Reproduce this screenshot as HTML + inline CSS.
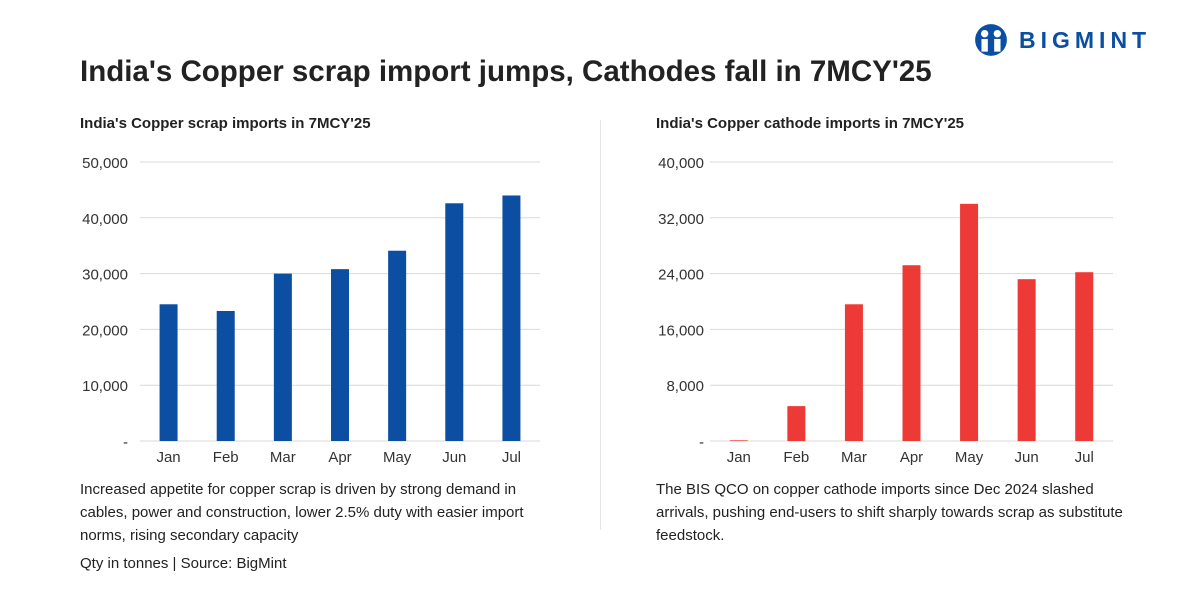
<!DOCTYPE html>
<html><head><meta charset="utf-8"><style>
body{margin:0;width:1200px;height:600px;background:#fff;font-family:"Liberation Sans",sans-serif;overflow:hidden;position:relative}
.t{position:absolute;white-space:nowrap}
</style></head><body>
<div class="t" style="left:80px;top:55px;font-size:29.5px;font-weight:bold;color:#222">India's Copper scrap import jumps, Cathodes fall in 7MCY'25</div>
<div class="t" style="left:973px;top:23px;display:flex;align-items:center">
<svg width="36" height="34" viewBox="0 0 34 32"><circle cx="17" cy="16" r="15" fill="#0b4ea2"/><circle cx="11" cy="10" r="3.5" fill="#fff"/><circle cx="23" cy="10" r="3.5" fill="#fff"/><rect x="8" y="15" width="6" height="12" fill="#fff"/><rect x="20" y="15" width="6" height="12" fill="#fff"/></svg>
<span style="color:#0b4ea2;font-weight:bold;font-size:23px;letter-spacing:5px;margin-left:10px">BIGMINT</span></div>
<div class="t" style="left:80px;top:115px;font-size:15px;font-weight:bold;color:#222">India's Copper scrap imports in 7MCY'25</div>
<div class="t" style="left:656px;top:115px;font-size:15px;font-weight:bold;color:#222">India's Copper cathode imports in 7MCY'25</div>
<div style="position:absolute;left:600px;top:120px;width:1px;height:410px;background:#e4e4e4"></div>
<svg id="c" width="1200" height="600" style="position:absolute;left:0;top:0"></svg>
<div class="t" style="left:80px;top:478px;font-size:15px;line-height:23px;color:#222">Increased appetite for copper scrap is driven by strong demand in<br>cables, power and construction, lower 2.5% duty with easier import<br>norms, rising secondary capacity</div>
<div class="t" style="left:656px;top:478px;font-size:15px;line-height:23px;color:#222">The BIS QCO on copper cathode imports since Dec 2024 slashed<br>arrivals, pushing end-users to shift sharply towards scrap as substitute<br>feedstock.</div>
<div class="t" style="left:80px;top:555px;font-size:15px;color:#222">Qty in tonnes | Source: BigMint</div>
<script>
const months=["Jan","Feb","Mar","Apr","May","Jun","Jul"];
const scrapValues=[24500,23300,30000,30800,34100,42600,44000];
const cathodeValues=[100,5000,19600,25200,34000,23200,24200];
const scrapTicks=[0,10000,20000,30000,40000,50000];
const cathodeTicks=[0,8000,16000,24000,32000,40000];
const svg=document.getElementById('c');const NS='http://www.w3.org/2000/svg';
function mk(t,a,txt){const e=document.createElementNS(NS,t);for(const k in a)e.setAttribute(k,a[k]);if(txt!=null)e.textContent=txt;svg.appendChild(e);return e;}
function chart(x0,x1,labelX,vals,ticks,color,pre){
 const y0=441,y1=162,max=ticks[ticks.length-1];
 const y=v=>y0-(v/max)*(y0-y1);
 const bw=(x1-x0)/months.length;
 ticks.forEach(t=>{
  const g=mk('line',{x1:x0,x2:x1,y1:y(t),y2:y(t),stroke:'#d9d9d9','stroke-width':1});
  
  const l=mk('text',{x:labelX,y:y(t)+6,'text-anchor':'end','font-size':15,fill:'#333'},t===0?'-':t.toLocaleString('en-US'));
  
 });
 months.forEach((m,i)=>{
  const cx=x0+bw*(i+0.5);
  const r=mk('rect',{x:cx-9,y:y(vals[i]),width:18,height:y0-y(vals[i]),fill:color});
  
  const l=mk('text',{x:cx,y:462,'text-anchor':'middle','font-size':15,fill:'#333'},m);
  
 });
}
chart(140,540,128,scrapValues,scrapTicks,'#0b4ea2','scrap');
chart(710,1113,704,cathodeValues,cathodeTicks,'#ee3a36','cathode');
</script>
</body></html>
